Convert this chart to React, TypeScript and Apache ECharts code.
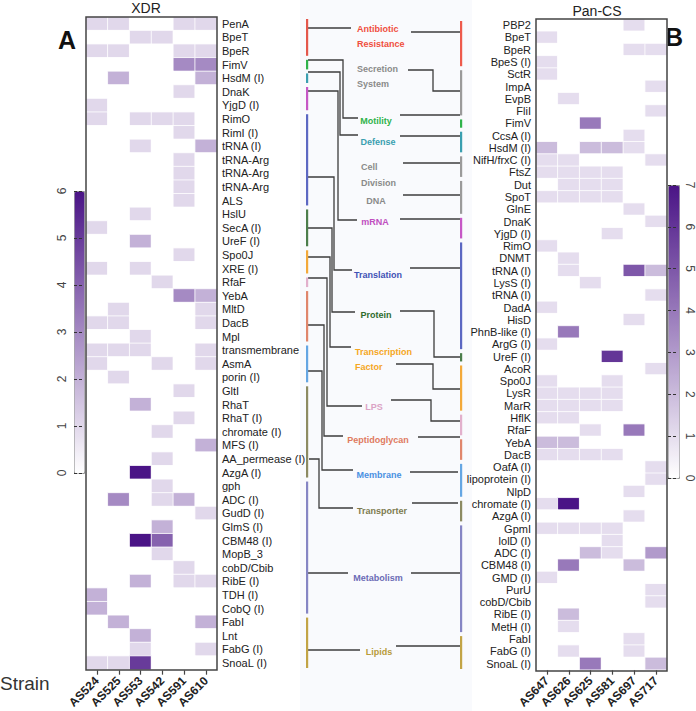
import React, { useEffect, useRef } from "react";
import * as echarts from "echarts";

const FONT = "'Liberation Sans', Arial, Helvetica, sans-serif";

// ---------- Data ----------
const strainsA = ["AS524", "AS525", "AS553", "AS542", "AS591", "AS610"];
const genesA = [
  "PenA", "BpeT", "BpeR", "FimV", "HsdM (I)", "DnaK", "YjgD (I)", "RimO", "RimI (I)", "tRNA (I)",
  "tRNA-Arg", "tRNA-Arg", "tRNA-Arg", "ALS", "HslU", "SecA (I)", "UreF (I)", "Spo0J", "XRE (I)", "RfaF",
  "YebA", "MltD", "DacB", "Mpl", "transmembrane", "AsmA", "porin (I)", "GltI", "RhaT", "RhaT (I)",
  "chromate (I)", "MFS (I)", "AA_permease (I)", "AzgA (I)", "gph", "ADC (I)", "GudD (I)", "GlmS (I)", "CBM48 (I)", "MopB_3",
  "cobD/Cbib", "RibE (I)", "TDH (I)", "CobQ (I)", "FabI", "Lnt", "FabG (I)", "SnoaL (I)",
];
const valuesA = [
  [1, 1, 0, 0, 1, 1], [0, 0, 1, 1, 0, 0], [1, 1, 0, 0, 1, 1], [0, 0, 0, 0, 3, 3], [0, 2, 0, 0, 0, 2],
  [0, 0, 0, 0, 1, 0], [1, 0, 0, 0, 0, 0], [1, 0, 1, 1, 1, 0], [0, 0, 0, 0, 1, 0], [0, 0, 1, 0, 0, 2],
  [0, 0, 0, 0, 1, 0], [0, 0, 0, 0, 1, 0], [0, 0, 0, 0, 1, 0], [0, 0, 0, 0, 1, 0], [0, 0, 1, 0, 0, 0],
  [1, 0, 0, 0, 0, 0], [0, 0, 2, 0, 0, 0], [0, 0, 0, 0, 1, 0], [1, 0, 1, 0, 0, 0], [0, 0, 0, 1, 0, 0],
  [0, 0, 0, 0, 3, 2], [0, 1, 0, 0, 0, 1], [1, 1, 0, 0, 0, 1], [0, 0, 1, 0, 0, 0], [1, 1, 1, 0, 0, 1],
  [1, 0, 0, 1, 0, 1], [0, 1, 0, 0, 0, 0], [0, 0, 0, 0, 1, 0], [0, 0, 2, 0, 0, 0], [0, 0, 0, 0, 1, 0],
  [0, 0, 0, 1, 0, 0], [0, 0, 0, 0, 0, 2], [0, 0, 0, 1, 0, 0], [0, 0, 6, 0, 0, 0], [0, 0, 0, 1, 0, 0],
  [0, 3, 0, 1, 2, 0], [0, 0, 0, 0, 0, 1], [0, 0, 0, 2, 0, 0], [0, 0, 6, 4, 0, 0], [0, 0, 0, 1, 0, 0],
  [0, 0, 0, 0, 1, 0], [0, 0, 2, 0, 1, 1], [2, 0, 0, 0, 0, 0], [2, 0, 0, 0, 0, 0], [0, 2, 0, 0, 0, 2],
  [0, 0, 2, 0, 0, 0], [0, 0, 1, 0, 0, 1], [1, 1, 5, 0, 0, 0],
];

const strainsB = ["AS647", "AS626", "AS625", "AS581", "AS697", "AS717"];
const genesB = [
  "PBP2", "BpeT", "BpeR", "BpeS (I)", "SctR", "ImpA", "EvpB", "FliI", "FimV", "CcsA (I)",
  "HsdM (I)", "NifH/frxC (I)", "FtsZ", "Dut", "SpoT", "GlnE", "DnaK", "YjgD (I)", "RimO", "DNMT",
  "tRNA (I)", "LysS (I)", "tRNA (I)", "DadA", "HisD", "PhnB-like (I)", "ArgG (I)", "UreF (I)", "AcoR", "Spo0J",
  "LysR", "MarR", "HflK", "RfaF", "YebA", "DacB", "OafA (I)", "lipoprotein (I)", "NlpD", "chromate (I)",
  "AzgA (I)", "GpmI", "lolD (I)", "ADC (I)", "CBM48 (I)", "GMD (I)", "PurU", "cobD/Cbib", "RibE (I)", "MetH (I)",
  "FabI", "FabG (I)", "SnoaL (I)",
];
const valuesB = [
  [0, 0, 0, 0, 1, 0], [1, 0, 0, 0, 0, 0], [0, 0, 0, 0, 1, 1], [1, 0, 0, 0, 0, 0], [1, 0, 0, 0, 0, 0],
  [0, 0, 0, 0, 0, 1], [0, 1, 0, 0, 0, 0], [0, 0, 0, 0, 0, 1], [0, 0, 4, 0, 0, 0], [0, 0, 0, 0, 1, 0],
  [2, 0, 2, 2, 1, 0], [1, 1, 0, 0, 0, 1], [1, 1, 1, 1, 0, 0], [0, 1, 1, 1, 0, 0], [1, 1, 1, 1, 0, 0],
  [0, 0, 0, 0, 1, 0], [0, 0, 0, 0, 0, 1], [0, 0, 0, 1, 0, 0], [1, 0, 0, 0, 0, 0], [0, 1, 0, 0, 0, 0],
  [0, 1, 0, 0, 5, 2], [0, 0, 1, 0, 0, 0], [0, 0, 0, 0, 0, 1], [1, 0, 0, 0, 0, 0], [0, 0, 0, 0, 1, 0],
  [0, 4, 0, 0, 0, 0], [1, 0, 0, 0, 0, 0], [0, 0, 0, 6, 0, 0], [0, 0, 0, 0, 0, 1], [1, 0, 0, 1, 0, 0],
  [1, 1, 1, 1, 0, 0], [1, 1, 1, 1, 0, 0], [1, 1, 0, 0, 0, 0], [0, 0, 1, 0, 4, 0], [2, 2, 0, 0, 0, 0],
  [1, 1, 1, 1, 0, 0], [0, 0, 0, 0, 0, 1], [0, 0, 0, 0, 0, 1], [0, 0, 0, 0, 1, 0], [1, 7, 0, 0, 0, 0],
  [0, 0, 0, 0, 1, 0], [1, 1, 1, 1, 0, 0], [0, 0, 0, 1, 0, 0], [0, 0, 2, 1, 0, 3], [0, 4, 0, 0, 2, 0],
  [1, 0, 0, 0, 0, 0], [0, 0, 0, 0, 0, 1], [0, 0, 0, 0, 0, 1], [0, 2, 0, 0, 0, 0], [0, 1, 0, 0, 0, 0],
  [0, 0, 0, 0, 1, 0], [0, 1, 0, 0, 1, 0], [0, 0, 4, 0, 0, 2],
];

const colorbarMaxA = 6;
const colorbarMaxB = 7;

// functional groups: [name, color, firstRow, lastRow] (1-based rows)
const groupsA: [string, string, number, number][] = [
  ["Antibiotic Resistance", "#e4574b", 1, 3],
  ["Motility", "#2fb34a", 4, 4],
  ["Defense", "#3a9fb0", 5, 5],
  ["mRNA", "#c657c6", 6, 7],
  ["Translation", "#5b67c2", 8, 14],
  ["Protein", "#4b7d4b", 15, 17],
  ["Transcription Factor", "#f3a93a", 18, 19],
  ["LPS", "#e2b0cc", 20, 20],
  ["Peptidoglycan", "#e0866c", 21, 24],
  ["Membrane", "#65a6e3", 25, 27],
  ["Transporter", "#8c8a62", 28, 34],
  ["Metabolism", "#8585c4", 35, 44],
  ["Lipids", "#c2a446", 45, 48],
];
const groupsB: [string, string, number, number][] = [
  ["Antibiotic Resistance", "#ee5a4c", 1, 4],
  ["Secretion System", "#9a9a9a", 5, 8],
  ["Motility", "#2fb34a", 9, 9],
  ["Defense", "#3a9fb0", 10, 11],
  ["Cell Division", "#9a9a9a", 12, 13],
  ["DNA", "#9a9a9a", 14, 16],
  ["mRNA", "#c657c6", 17, 18],
  ["Translation", "#5b67c2", 19, 27],
  ["Protein", "#4b7d4b", 28, 28],
  ["Transcription Factor", "#f3a93a", 29, 32],
  ["LPS", "#e2b0cc", 33, 34],
  ["Peptidoglycan", "#e0866c", 35, 36],
  ["Membrane", "#65a6e3", 37, 39],
  ["Transporter", "#8c8a62", 40, 41],
  ["Metabolism", "#8585c4", 42, 50],
  ["Lipids", "#c2a446", 51, 53],
];

// ---------- Layout ----------
const GA = { left: 86, top: 17, width: 131, height: 653 };
const GB = { left: 536, top: 19, width: 131, height: 652 };
const CBA = { left: 74, top: 191, width: 10, height: 282 };
const CBB = { left: 668, top: 185, width: 11, height: 293 };
const BAR_X_LEFT = 306;
const BAR_X_RIGHT = 460;

const catLabels = [
  { lines: ["Antibiotic", "Resistance"], color: "#f04e3e", x: 357, y: 29, align: "left", lh: 15 },
  { lines: ["Secretion", "System"], color: "#8a8a8a", x: 357, y: 69, align: "left", lh: 15 },
  { lines: ["Motility"], color: "#2fb34a", x: 376, y: 121, align: "center", lh: 0 },
  { lines: ["Defense"], color: "#3a9fb0", x: 378, y: 142, align: "center", lh: 0 },
  { lines: ["Cell", "Division"], color: "#8a8a8a", x: 361, y: 167, align: "left", lh: 16 },
  { lines: ["DNA"], color: "#8a8a8a", x: 376, y: 201, align: "center", lh: 0 },
  { lines: ["mRNA"], color: "#c04fc0", x: 375, y: 222, align: "center", lh: 0 },
  { lines: ["Translation"], color: "#3f51b5", x: 378, y: 275, align: "center", lh: 0 },
  { lines: ["Protein"], color: "#2e6b2e", x: 376, y: 315, align: "center", lh: 0 },
  { lines: ["Transcription", "Factor"], color: "#f5a623", x: 355, y: 352, align: "left", lh: 15 },
  { lines: ["LPS"], color: "#dba3c5", x: 374, y: 407, align: "center", lh: 0 },
  { lines: ["Peptidoglycan"], color: "#e07a5f", x: 378, y: 440, align: "center", lh: 0 },
  { lines: ["Membrane"], color: "#4a90e2", x: 379, y: 475, align: "center", lh: 0 },
  { lines: ["Transporter"], color: "#7d7a50", x: 382, y: 511, align: "center", lh: 0 },
  { lines: ["Metabolism"], color: "#6b6bb5", x: 378, y: 578, align: "center", lh: 0 },
  { lines: ["Lipids"], color: "#b89b3a", x: 379, y: 652, align: "center", lh: 0 },
];

const connectors: number[][][] = [
  // left side
  [[308, 28], [351, 28]],
  [[308, 60], [343, 60], [343, 118], [358, 118]],
  [[308, 72], [340, 72], [340, 135], [358, 135]],
  [[308, 91], [338, 91], [338, 220], [357, 220]],
  [[308, 177], [334, 177], [334, 270], [352, 270]],
  [[308, 228], [332, 228], [332, 312], [355, 312]],
  [[308, 257], [330, 257], [330, 347], [351, 347]],
  [[308, 278], [327, 278], [327, 406], [362, 406]],
  [[308, 325], [324, 325], [324, 436], [343, 436]],
  [[308, 371], [322, 371], [322, 470], [353, 470]],
  [[309, 459], [319, 459], [319, 508], [353, 508]],
  [[308, 573], [348, 573]],
  [[308, 650], [360, 650]],
  // right side
  [[411, 32], [460, 32]],
  [[408, 70], [433, 70], [433, 91], [460, 91]],
  [[400, 115], [460, 115]],
  [[400, 136], [460, 136]],
  [[403, 163], [460, 163]],
  [[403, 195], [460, 195]],
  [[400, 219], [460, 219]],
  [[410, 268], [460, 268]],
  [[400, 311], [434, 311], [434, 357], [460, 357]],
  [[396, 364], [433, 364], [433, 389], [460, 389]],
  [[391, 400], [431, 400], [431, 421], [460, 421]],
  [[418, 437], [460, 437]],
  [[410, 472], [458, 472]],
  [[412, 503], [458, 503]],
  [[411, 573], [460, 573]],
  [[396, 646], [460, 646]],
];

function toCells(values: number[][]) {
  const out: number[][] = [];
  values.forEach((row, r) => row.forEach((v, c) => out.push([c, r, v])));
  return out;
}

function groupBars(groups: [string, string, number, number][], g: typeof GA, n: number, x: number) {
  const rh = g.height / n;
  return groups.map(([, color, a, b]) => ({
    type: "rect",
    z: 5,
    shape: { x, y: g.top + (a - 1) * rh + 2, width: 2.2, height: (b - a + 1) * rh - 4 },
    style: { fill: color },
  }));
}

export default function App() {
  const ref = useRef<HTMLDivElement>(null);
  useEffect(() => {
    if (!ref.current) return;
    const chart = echarts.init(ref.current, null, { renderer: "svg" });

    const catAxisX = (data: string[], gi: number) => ({
      gridIndex: gi,
      type: "category",
      data,
      position: "bottom",
      axisLine: { show: false },
      axisTick: { show: true, alignWithLabel: true, length: 5, lineStyle: { color: "#444", width: 1.2 } },
      axisLabel: { rotate: 45, fontSize: 12, fontWeight: "bold", color: "#222", margin: 9, fontFamily: FONT, interval: 0 },
      splitLine: { show: false },
    });
    const catAxisY = (data: string[], gi: number, pos: string) => ({
      gridIndex: gi,
      type: "category",
      data,
      inverse: true,
      position: pos,
      axisLine: { show: false },
      axisTick: { show: false },
      axisLabel: { fontSize: 11, color: "#222", margin: 5, fontFamily: FONT, interval: 0 },
      splitLine: { show: false },
    });
    const cbAxis = (gi: number, max: number, pos: string, rot: number) => ({
      gridIndex: gi,
      type: "value",
      min: 0,
      max,
      interval: 1,
      position: pos,
      z: 10,
      axisLine: { show: false },
      axisTick: { show: false },
      axisLabel: { rotate: rot, fontSize: 12, color: "#444", margin: 6, fontFamily: FONT },
      splitLine: { show: true, lineStyle: { type: [3, 2], color: "#333", width: 1 } },
    });

    const graphics: any[] = [];
    graphics.push({ type: "rect", z: -10, shape: { x: 300, y: 0, width: 172, height: 711 }, style: { fill: "#f9fafd" } });
    graphics.push(...groupBars(groupsA, GA, genesA.length, BAR_X_LEFT));
    graphics.push(...groupBars(groupsB, GB, genesB.length, BAR_X_RIGHT));
    connectors.forEach((pts) =>
      graphics.push({ type: "polyline", z: 4, shape: { points: pts }, style: { stroke: "#3d3d3d", lineWidth: 1.3, fill: null } })
    );
    catLabels.forEach((l) =>
      l.lines.forEach((t, i) =>
        graphics.push({
          type: "text",
          z: 6,
          x: l.x,
          y: l.y + i * l.lh,
          style: { text: t, fill: l.color, fontSize: 9, fontWeight: "bold", fontFamily: FONT, align: l.align, verticalAlign: "middle" },
        })
      )
    );
    // frames
    [GA, GB].forEach((g) =>
      graphics.push({ type: "rect", z: 20, shape: { x: g.left, y: g.top, width: g.width, height: g.height }, style: { fill: null, stroke: "#444", lineWidth: 1.5 } })
    );
    // titles
    graphics.push({ type: "text", x: 146, y: 8, style: { text: "XDR", fontSize: 14, fill: "#222", fontFamily: FONT, align: "center", verticalAlign: "middle" } });
    graphics.push({ type: "text", x: 597, y: 11, style: { text: "Pan-CS", fontSize: 14, fill: "#222", fontFamily: FONT, align: "center", verticalAlign: "middle" } });
    graphics.push({ type: "text", x: 67, y: 40, style: { text: "A", fontSize: 25, fontWeight: "bold", fill: "#111", fontFamily: FONT, align: "center", verticalAlign: "middle" } });
    graphics.push({ type: "text", x: 674, y: 37, style: { text: "B", fontSize: 25, fontWeight: "bold", fill: "#111", fontFamily: FONT, align: "center", verticalAlign: "middle" } });
    graphics.push({ type: "text", x: 0, y: 683, style: { text: "Strain", fontSize: 19, fill: "#333", fontFamily: FONT, align: "left", verticalAlign: "middle" } });

    const option: any = {
      animation: false,
      backgroundColor: "#ffffff",
      grid: [
        { ...GA, show: false },
        { ...GB, show: false },
        { ...CBA, show: false },
        { ...CBB, show: false },
      ],
      xAxis: [
        catAxisX(strainsA, 0),
        catAxisX(strainsB, 1),
        { gridIndex: 2, type: "value", show: false },
        { gridIndex: 3, type: "value", show: false },
      ],
      yAxis: [
        catAxisY(genesA, 0, "right"),
        catAxisY(genesB, 1, "left"),
        cbAxis(2, colorbarMaxA, "left", 90),
        cbAxis(3, colorbarMaxB, "right", -90),
      ],
      visualMap: [
        {
          type: "continuous", seriesIndex: 0, min: 0, max: colorbarMaxA, show: true, calculable: false,
          orient: "vertical", left: CBA.left, top: CBA.top, itemWidth: CBA.width, itemHeight: CBA.height,
          padding: 0, borderColor: "#999", borderWidth: 1, hoverLink: false, z: 4,
          inRange: { color: ["#ffffff", "#4a1486"] },
        },
        {
          type: "continuous", seriesIndex: 1, min: 0, max: colorbarMaxB, show: true, calculable: false,
          orient: "vertical", left: CBB.left, top: CBB.top, itemWidth: CBB.width, itemHeight: CBB.height,
          padding: 0, borderColor: "#999", borderWidth: 1, hoverLink: false, z: 4,
          inRange: { color: ["#ffffff", "#4a1486"] },
        },
      ],
      series: [
        {
          type: "heatmap", xAxisIndex: 0, yAxisIndex: 0, data: toCells(valuesA),
          itemStyle: { borderColor: "#ffffff", borderWidth: 0.8 },
        },
        {
          type: "heatmap", xAxisIndex: 1, yAxisIndex: 1, data: toCells(valuesB),
          itemStyle: { borderColor: "#ffffff", borderWidth: 0.8 },
        },
      ],
      graphic: graphics,
    };
    chart.setOption(option);
    return () => chart.dispose();
  }, []);

  return <div ref={ref} style={{ position: "fixed", left: 0, top: 0, width: 696, height: 711 }} />;
}
